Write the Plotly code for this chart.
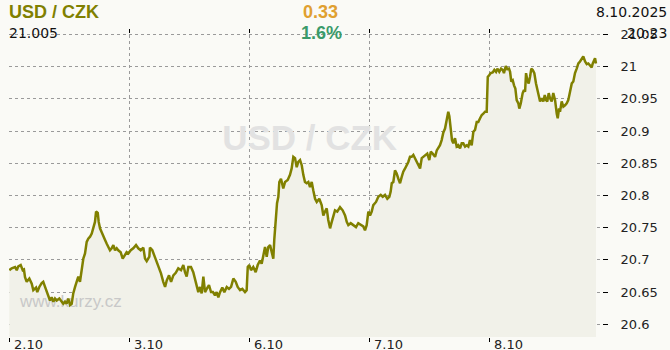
import plotly.graph_objects as go

# time in trading-day units (0 = 2.10 00:00, 1 = 3.10, 2 = 6.10, 3 = 7.10, 4 = 8.10)
t = [0.000,0.020,0.048,0.062,0.075,0.095,0.112,0.122,0.131,0.145,0.167,0.187,0.200,0.223,0.233,0.250,0.270,0.283,0.298,0.312,
     0.325,0.339,0.353,0.367,0.381,0.395,0.417,0.437,0.450,0.464,0.478,0.492,0.506,0.520,0.533,0.548,0.562,0.575,0.589,0.598,
     0.608,0.617,0.631,0.645,0.658,0.673,0.687,0.700,0.714,0.723,0.737,0.745,0.756,0.770,0.783,0.798,0.812,0.825,0.839,0.853,
     0.867,0.881,0.895,0.908,0.928,0.945,0.964,0.978,0.992,1.012,1.033,1.056,1.075,1.095,1.117,1.131,1.145,1.167,1.172,1.192,
     1.208,1.228,1.248,1.264,1.283,1.298,1.312,1.331,1.348,1.367,1.387,1.408,1.431,1.450,1.464,1.478,1.492,1.514,1.533,1.548,
     1.562,1.575,1.589,1.603,1.617,1.631,1.645,1.664,1.681,1.697,1.714,1.728,1.742,1.756,1.775,1.792,1.812,1.831,1.848,1.867,
     1.887,1.903,1.923,1.942,1.964,1.978,1.987,2.000,2.014,2.033,2.053,2.070,2.089,2.103,2.117,2.131,2.145,2.158,2.173,2.187,
     2.200,2.208,2.220,2.231,2.242,2.250,2.264,2.283,2.298,2.320,2.339,2.353,2.367,2.381,2.395,2.408,2.423,2.437,2.450,2.464,
     2.478,2.492,2.506,2.520,2.533,2.548,2.562,2.583,2.603,2.617,2.631,2.645,2.658,2.673,2.687,2.700,2.714,2.733,2.756,2.778,
     2.798,2.812,2.825,2.845,2.867,2.889,2.908,2.928,2.950,2.964,2.978,2.992,3.006,3.020,3.033,3.056,3.075,3.095,3.112,3.131,
     3.150,3.167,3.178,3.187,3.200,3.214,3.228,3.242,3.256,3.270,3.283,3.298,3.312,3.325,3.339,3.353,3.367,3.381,3.395,3.408,
     3.423,3.437,3.450,3.473,3.483,3.500,3.512,3.528,3.548,3.562,3.575,3.589,3.603,3.617,3.631,3.645,3.658,3.667,3.678,3.689,
     3.700,3.714,3.728,3.742,3.756,3.770,3.783,3.798,3.812,3.825,3.839,3.853,3.867,3.881,3.895,3.908,3.923,3.937,3.950,3.964,
     3.978,3.987,4.000,4.012,4.028,4.042,4.056,4.067,4.083,4.098,4.112,4.122,4.137,4.150,4.164,4.173,4.183,4.195,4.206,4.217,
     4.228,4.242,4.250,4.262,4.278,4.289,4.298,4.306,4.317,4.328,4.339,4.350,4.362,4.375,4.389,4.400,4.412,4.423,4.437,4.450,
     4.462,4.473,4.483,4.495,4.506,4.520,4.533,4.548,4.562,4.570,4.581,4.589,4.603,4.617,4.631,4.645,4.658,4.673,4.687,4.700,
     4.714,4.728,4.742,4.756,4.770,4.783,4.798,4.812,4.825,4.839,4.853,4.862,4.873,4.881,4.889]

rate = [20.684,20.687,20.689,20.684,20.690,20.692,20.684,20.685,20.673,20.666,20.671,20.663,20.653,20.657,20.650,20.658,20.664,20.666,20.658,20.650,
        20.642,20.637,20.642,20.635,20.640,20.637,20.640,20.635,20.632,20.635,20.632,20.640,20.630,20.632,20.648,20.658,20.668,20.674,20.666,20.679,
        20.697,20.702,20.710,20.728,20.733,20.736,20.741,20.749,20.759,20.775,20.773,20.759,20.749,20.743,20.736,20.731,20.725,20.720,20.715,20.718,
        20.723,20.715,20.718,20.715,20.712,20.702,20.707,20.712,20.710,20.715,20.718,20.723,20.718,20.715,20.719,20.702,20.698,20.705,20.719,20.715,
        20.707,20.697,20.687,20.679,20.666,20.658,20.668,20.676,20.666,20.676,20.680,20.687,20.684,20.692,20.681,20.674,20.689,20.689,20.681,20.668,
        20.658,20.650,20.658,20.648,20.674,20.650,20.655,20.661,20.650,20.650,20.645,20.650,20.642,20.650,20.657,20.650,20.658,20.655,20.658,20.671,
        20.666,20.658,20.653,20.655,20.650,20.653,20.689,20.692,20.684,20.689,20.681,20.692,20.699,20.694,20.707,20.720,20.705,20.720,20.723,20.710,
        20.702,20.731,20.762,20.788,20.798,20.821,20.826,20.811,20.821,20.824,20.832,20.842,20.860,20.858,20.844,20.852,20.855,20.847,20.832,20.821,
        20.819,20.821,20.813,20.821,20.808,20.795,20.790,20.795,20.785,20.769,20.775,20.780,20.762,20.749,20.759,20.767,20.777,20.775,20.782,20.777,
        20.769,20.759,20.754,20.757,20.754,20.751,20.757,20.754,20.752,20.746,20.754,20.775,20.769,20.775,20.785,20.790,20.798,20.801,20.798,20.801,
        20.795,20.798,20.806,20.819,20.821,20.839,20.834,20.826,20.819,20.829,20.837,20.842,20.847,20.852,20.860,20.860,20.863,20.858,20.852,20.847,
        20.842,20.858,20.860,20.863,20.865,20.855,20.868,20.865,20.860,20.870,20.873,20.878,20.886,20.898,20.904,20.917,20.930,20.923,20.907,20.886,
        20.881,20.889,20.876,20.878,20.873,20.881,20.881,20.876,20.878,20.876,20.886,20.878,20.899,20.902,20.914,20.914,20.920,20.925,20.927,20.930,
        20.930,20.984,20.987,20.990,20.991,20.995,20.992,20.997,20.992,20.997,20.995,20.990,21.001,20.996,20.997,20.992,20.977,20.979,20.971,20.966,
        20.948,20.943,20.935,20.943,20.959,20.964,20.961,20.990,20.979,20.974,20.984,20.997,20.995,20.990,20.974,20.964,20.953,20.946,20.951,20.946,
        20.956,20.948,20.946,20.959,20.951,20.946,20.959,20.948,20.927,20.920,20.935,20.930,20.946,20.938,20.940,20.943,20.948,20.961,20.974,20.977,
        20.990,20.997,21.005,21.008,21.013,21.016,21.008,21.004,21.005,21.001,20.999,21.005,21.010,21.013,21.005]

x_tick_vals = [0, 1, 2, 3, 4]
x_tick_text = ["2.10", "3.10", "6.10", "7.10", "8.10"]
y_tick_vals = [20.6, 20.65, 20.7, 20.75, 20.8, 20.85, 20.9, 20.95, 21.0, 21.05]
y_tick_text = ["20.6", "20.65", "20.7", "20.75", "20.8", "20.85", "20.9", "20.95", "21", "21.05"]

title_text = "USD / CZK"
last_value = "21.005"
change_abs = "0.33"
change_pct = "1.6%"
date_text = "8.10.2025"
time_text = "20:23"
watermark_site = "www.kurzy.cz"

X_RANGE = [-0.0025, 4.939]
Y_RANGE = [20.5803, 21.0585]

def px_x(f):
    return X_RANGE[0] + f * (X_RANGE[1] - X_RANGE[0])

def px_y(f):
    return Y_RANGE[0] + f * (Y_RANGE[1] - Y_RANGE[0])

BG = "#fafaf6"
FILL = "#f1f1e9"
OLIVE = "#808000"
GRID = "#9a9a9a"

fig = go.Figure()
# area fill
fig.add_trace(go.Scatter(x=t, y=rate, mode="lines", line=dict(width=0, color=FILL),
                         fill="tozeroy", fillcolor=FILL, hoverinfo="skip", showlegend=False))
# watermarks (below the line)
fig.add_trace(go.Scatter(x=[px_x(0.507)], y=[px_y(0.634)], mode="text", text=[title_text],
                         textposition="middle center",
                         textfont=dict(family="Liberation Sans", size=35, color="#e2e2e2", weight="bold"),
                         hoverinfo="skip", showlegend=False))
fig.add_trace(go.Scatter(x=[px_x(0.0185)], y=[px_y(0.110)], mode="text", text=[watermark_site],
                         textposition="middle right",
                         textfont=dict(family="Liberation Sans", size=17, color="#c8c8c8"),
                         hoverinfo="skip", showlegend=False))
# price line
fig.add_trace(go.Scatter(x=t, y=rate, mode="lines", line=dict(width=2.5, color=OLIVE),
                         hoverinfo="skip", showlegend=False))
# dummy for top axis ticks
fig.add_trace(go.Scatter(x=[None], y=[None], xaxis="x2", yaxis="y", mode="lines", showlegend=False, hoverinfo="skip"))

fig.update_layout(
    width=670, height=350,
    margin=dict(l=9, r=68, t=29, b=13),
    paper_bgcolor=BG, plot_bgcolor=BG,
    showlegend=False,
    xaxis=dict(range=X_RANGE, tickvals=x_tick_vals, ticktext=x_tick_text, showticklabels=False,
               ticks="outside", ticklen=4, tickcolor="#000", tickwidth=1,
               showgrid=True, gridcolor=GRID, griddash="3px,3px", gridwidth=1,
               zeroline=False, showline=False, fixedrange=True),
    xaxis2=dict(range=X_RANGE, overlaying="x", side="top", tickvals=x_tick_vals, showticklabels=False,
                ticks="inside", ticklen=4, tickcolor="#000", tickwidth=1, showgrid=False,
                zeroline=False, showline=False),
    yaxis=dict(range=Y_RANGE, side="right", tickvals=y_tick_vals, ticktext=y_tick_text,
               ticks="outside", ticklen=5, tickcolor="#000", tickwidth=1, ticklabelstandoff=10,
               tickfont=dict(family="DejaVu Sans", size=13, color="#222"),
               showgrid=True, gridcolor=GRID, griddash="3px,3px", gridwidth=1,
               zeroline=False, showline=False),
)

annots = []
for v, s in zip(x_tick_vals, x_tick_text):
    annots.append(dict(x=v, xref="x", y=-0.0244, yref="paper", text=s, showarrow=False,
                       xanchor="left", yanchor="middle", xshift=3,
                       font=dict(family="DejaVu Sans", size=13, color="#222")))

def pap_x(p):
    return (p - 9) / 593.0

def pap_y(p):
    return (337 - p) / 308.0

annots += [
    dict(x=pap_x(7), y=pap_y(12), text="<b>" + title_text + "</b>", xanchor="left", yanchor="middle",
         font=dict(family="Liberation Sans", size=18, color=OLIVE)),
    dict(x=pap_x(320), y=pap_y(12), text="<b>" + change_abs + "</b>", xanchor="center", yanchor="middle",
         font=dict(family="Liberation Sans", size=18, color="#e0a030")),
    dict(x=pap_x(321), y=pap_y(32.5), text="<b>" + change_pct + "</b>", xanchor="center", yanchor="middle",
         font=dict(family="Liberation Sans", size=18, color="#3a9a6a")),
    dict(x=pap_x(7), y=pap_y(33), text=last_value, xanchor="left", yanchor="middle",
         font=dict(family="DejaVu Sans", size=14, color="#111")),
    dict(x=pap_x(669), y=pap_y(12.5), text=date_text, xanchor="right", yanchor="middle",
         font=dict(family="DejaVu Sans", size=14, color="#111")),
    dict(x=pap_x(669), y=pap_y(33), text=time_text, xanchor="right", yanchor="middle",
         font=dict(family="DejaVu Sans", size=14, color="#111")),
]
for a in annots[len(x_tick_vals):]:
    a.update(xref="paper", yref="paper", showarrow=False)
fig.update_layout(annotations=annots)

fig.write_html("out.html")
